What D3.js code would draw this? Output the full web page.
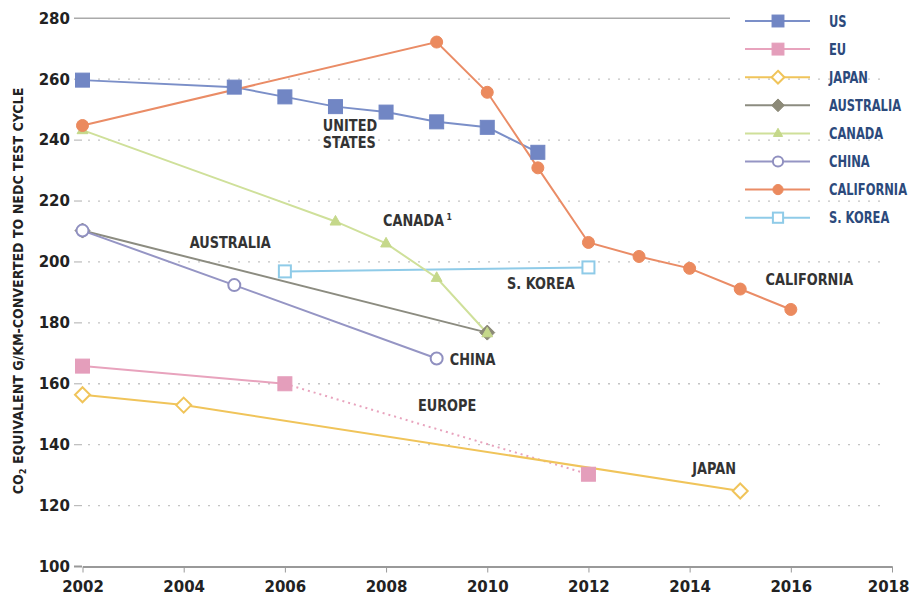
<!DOCTYPE html>
<html><head><meta charset="utf-8">
<script src="https://cdn.jsdelivr.net/npm/d3@7"></script>
<style>
body{margin:0;background:#fff;}
text{font-family:"DejaVu Sans",sans-serif;font-weight:bold;}
</style></head><body>
<svg id="c" width="910" height="598"></svg>
<script>
const yTicks = [100,120,140,160,180,200,220,240,260,280];
const xTicks = [2002,2004,2006,2008,2010,2012,2014,2016,2018];

const usYears = [2002,2005,2006,2007,2008,2009,2010,2011];
const usVals  = [259.7,257.4,254.2,251.0,249.2,246.0,244.2,236.0];
const euYears = [2002,2006];
const euVals  = [165.8,160.0];
const euProjYears = [2006,2012];
const euProjVals  = [160.0,130.3];
const japanYears = [2002,2004,2015];
const japanVals  = [156.4,153.0,124.8];
const ausYears = [2002,2010];
const ausVals  = [210.3,176.8];
const canadaYears = [2002,2007,2008,2009,2010];
const canadaVals  = [243.3,213.3,206.1,194.8,176.6];
const chinaYears = [2002,2005,2009];
const chinaVals  = [210.3,192.4,168.3];
const caliYears = [2002,2009,2010,2011,2012,2013,2014,2015,2016];
const caliVals  = [244.8,272.2,255.7,230.9,206.4,201.8,197.9,191.1,184.4];
const koreaYears = [2006,2012];
const koreaVals  = [196.9,198.2];

const legendNames = ["US","EU","JAPAN","AUSTRALIA","CANADA","CHINA","CALIFORNIA","S. KOREA"];

const labelTexts = ["UNITED|STATES","CANADA¹","AUSTRALIA","S. KOREA","CHINA","EUROPE","JAPAN","CALIFORNIA"];
const labelYears = [2006.75,2007.94,2004.12,2010.39,2009.26,2008.63,2014.05,2015.5];
const labelVals  = [243.0,211.8,204.6,191.1,166.0,151.0,130.3,192.5];

const series = [
  {name:"US", years:usYears, vals:usVals, color:"#7b8fc8", mcolor:"#7186c4", shape:"square", fill:true},
  {name:"EU", years:euYears, vals:euVals, color:"#e8a3bd", mcolor:"#e49ebb", shape:"square", fill:true},
  {name:"JAPAN", years:japanYears, vals:japanVals, color:"#f0c45a", mcolor:"#f0c45a", shape:"diamond", fill:false},
  {name:"AUSTRALIA", years:ausYears, vals:ausVals, color:"#8c8c80", mcolor:"#8c8a78", shape:"diamond", fill:true},
  {name:"CANADA", years:canadaYears, vals:canadaVals, color:"#cfe09a", mcolor:"#c5d88a", shape:"triangle", fill:true},
  {name:"CHINA", years:chinaYears, vals:chinaVals, color:"#9595c4", mcolor:"#9090c0", shape:"circle", fill:false},
  {name:"CALIFORNIA", years:caliYears, vals:caliVals, color:"#ea8c66", mcolor:"#eb8a5e", shape:"circle", fill:true},
  {name:"S. KOREA", years:koreaYears, vals:koreaVals, color:"#8fcbe8", mcolor:"#8fcbe8", shape:"square", fill:false}
];

const svg = d3.select("#c");
const x = d3.scaleLinear().domain([2002,2018]).range([82.5,892]);
const y = d3.scaleLinear().domain([100,280]).range([566.5,18.3]);
const FONT = '"DejaVu Sans",sans-serif';

// gridlines
const g = svg.append("g");
yTicks.forEach(t=>{
  if(t===100) return;
  if(t===280){
    g.append("line").attr("x1",74).attr("x2",730).attr("y1",y(t)).attr("y2",y(t))
     .attr("stroke","#aaa").attr("stroke-width",1.5);
  } else {
    g.append("line").attr("x1",74).attr("x2",82).attr("y1",y(t)).attr("y2",y(t))
     .attr("stroke","#bbb").attr("stroke-width",1.2);
    g.append("line").attr("x1",88).attr("x2",888).attr("y1",y(t)).attr("y2",y(t))
     .attr("stroke","#c4c4c4").attr("stroke-width",1.3).attr("stroke-dasharray","2,8");
  }
});
// x axis
const xa = svg.append("g").attr("transform",`translate(0,${y(100)})`)
  .call(d3.axisBottom(x).tickValues(xTicks).tickFormat(d3.format("d")).tickSize(6).tickSizeOuter(0));
xa.select(".domain").attr("stroke","#999").attr("stroke-width",2);
xa.selectAll(".tick line").attr("stroke","#999");
xa.selectAll(".tick text").attr("font-size",15).attr("fill","#222").attr("dy","1.1em")
  .style("font-family",FONT).style("font-weight","bold");
xa.selectAll(".tick").filter(d=>d===2018).select("text").attr("text-anchor","end").attr("x",17);
svg.append("line").attr("x1",74).attr("x2",82).attr("y1",y(100)).attr("y2",y(100)).attr("stroke","#999").attr("stroke-width",2);
// y labels
const ya = svg.append("g").attr("transform","translate(72,0)")
  .call(d3.axisLeft(y).tickValues(yTicks).tickSize(0).tickPadding(2));
ya.select(".domain").remove();
ya.selectAll(".tick text").attr("font-size",15).attr("fill","#222")
  .style("font-family",FONT).style("font-weight","bold");

// y axis title
const yt = svg.append("text").attr("transform","translate(23,291) rotate(-90)")
  .attr("text-anchor","middle").attr("font-size",13.5).attr("fill","#222");
yt.append("tspan").text("CO");
yt.append("tspan").text("2").attr("font-size",9).attr("dy",3);
yt.append("tspan").text(" EQUIVALENT G/KM-CONVERTED TO NEDC TEST CYCLE").attr("dy",-3);
{
  const w = yt.node().getComputedTextLength();
  yt.attr("transform",`translate(23,291) rotate(-90) scale(${407/w},1)`);
}

const line = d3.line().x(d=>x(d[0])).y(d=>y(d[1]));

function drawMarker(sel, s, cx, cy, scale){
  scale = scale||1;
  const fill = s.fill ? s.mcolor : "#fff";
  let m;
  if(s.shape==="square"){
    const h = (s.fill?7:6)*scale;
    m = sel.append("rect").attr("x",cx-h).attr("y",cy-h).attr("width",2*h).attr("height",2*h);
  } else if(s.shape==="circle"){
    m = sel.append("circle").attr("cx",cx).attr("cy",cy).attr("r",6*scale);
  } else if(s.shape==="diamond"){
    const r = 7.5*scale;
    m = sel.append("path").attr("d",`M${cx},${cy-r}L${cx+r},${cy}L${cx},${cy+r}L${cx-r},${cy}Z`);
  } else {
    const r = 6*scale;
    m = sel.append("path").attr("d",`M${cx},${cy-r}L${cx+r*0.9},${cy+r*0.6}L${cx-r*0.9},${cy+r*0.6}Z`);
  }
  m.attr("fill",fill).attr("stroke",s.mcolor).attr("stroke-width",s.fill?1:2);
}

// EU projection dotted
svg.append("path").datum(euProjYears.map((d,i)=>[d,euProjVals[i]]))
  .attr("d",line).attr("fill","none").attr("stroke","#e8a3bd").attr("stroke-width",2).attr("stroke-dasharray","2,4");

const drawOrder = ["S. KOREA","AUSTRALIA","CHINA","JAPAN","EU","CANADA","US","CALIFORNIA"];
drawOrder.forEach(n=>{
  const s = series.find(q=>q.name===n);
  svg.append("path").datum(s.years.map((d,i)=>[d,s.vals[i]]))
    .attr("d",line).attr("fill","none").attr("stroke",s.color).attr("stroke-width",2);
});
drawOrder.forEach(n=>{
  const s = series.find(q=>q.name===n);
  const mg = svg.append("g");
  s.years.forEach((yr,i)=>drawMarker(mg,s,x(yr),y(s.vals[i])));
});
drawMarker(svg, series[1], x(euProjYears[1]), y(euProjVals[1]));

// annotations
labelTexts.forEach((t,i)=>{
  const parts = t.split("|");
  const lx = x(labelYears[i]), ly = y(labelVals[i]);
  const grp = svg.append("g").attr("transform",`translate(${lx},${ly}) scale(0.86,1)`);
  parts.forEach((p,j)=>{
    let body = p, sup = false;
    if(p.endsWith("¹")){ body = p.slice(0,-1); sup = true; }
    const tx = grp.append("text").attr("x",0).attr("y",j*17)
      .attr("font-size",15).attr("fill","#333").text(body);
    if(sup){
      const w = tx.node().getComputedTextLength();
      grp.append("text").attr("x",w + 3).attr("y",-6).attr("font-size",9).attr("fill","#333").text("1");
    }
  });
});

// legend
const lg = svg.append("g");
legendNames.forEach((n,i)=>{
  const s = series.find(q=>q.name===n);
  const ly = 21 + i*28.1;
  lg.append("line").attr("x1",745).attr("x2",810).attr("y1",ly).attr("y2",ly).attr("stroke",s.color).attr("stroke-width",2);
  drawMarker(lg,s,778,ly,0.85);
  lg.append("g").attr("transform",`translate(829,${ly+5.5}) scale(0.82,1.08)`)
    .append("text").attr("x",0).attr("y",0).attr("font-size",14).attr("fill","#2c4a7c").text(n);
});
</script>
</body></html>
